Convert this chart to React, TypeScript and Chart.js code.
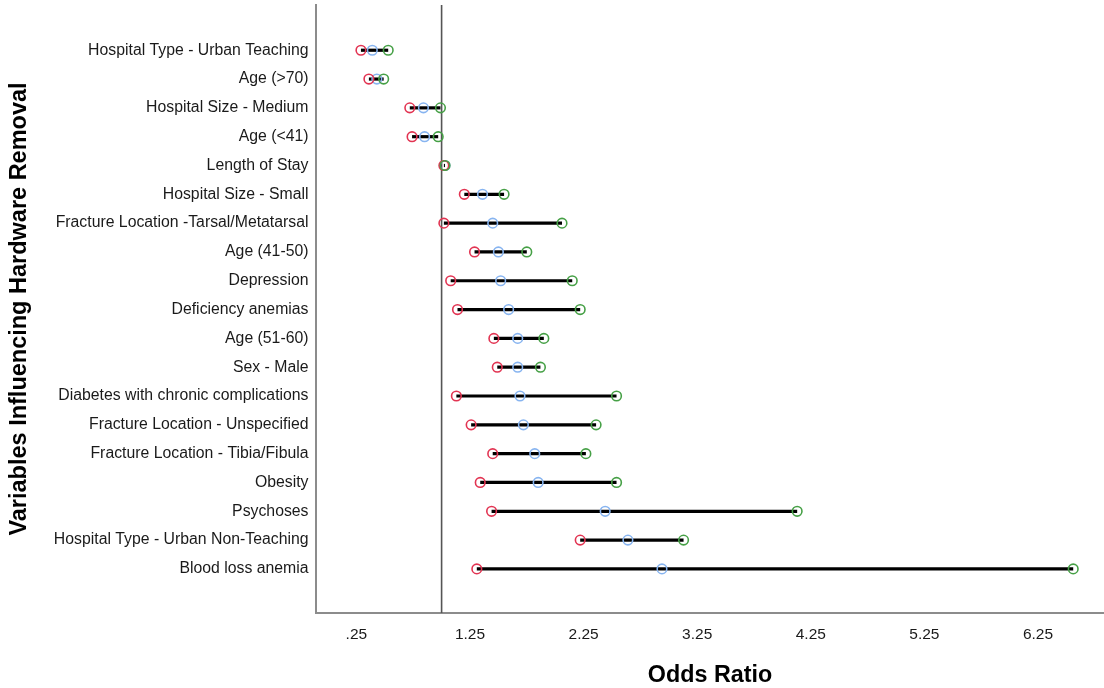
import React, { useEffect, useRef } from "react";
import { Chart, registerables } from "chart.js";

Chart.register(...registerables);

const VARIABLES = [
  "Hospital Type - Urban Teaching",
  "Age (>70)",
  "Hospital Size - Medium",
  "Age (<41)",
  "Length of Stay",
  "Hospital Size - Small",
  "Fracture Location -Tarsal/Metatarsal",
  "Age (41-50)",
  "Depression",
  "Deficiency anemias",
  "Age (51-60)",
  "Sex - Male",
  "Diabetes with chronic complications",
  "Fracture Location - Unspecified",
  "Fracture Location - Tibia/Fibula",
  "Obesity",
  "Psychoses",
  "Hospital Type - Urban Non-Teaching",
  "Blood loss anemia",
];

const LOWER_CI = [0.29, 0.36, 0.72, 0.74, 1.02, 1.2, 1.02, 1.29, 1.08, 1.14, 1.46, 1.49, 1.13, 1.26, 1.45, 1.34, 1.44, 2.22, 1.31];
const ODDS_RATIO = [0.39, 0.43, 0.84, 0.85, 1.03, 1.36, 1.45, 1.5, 1.52, 1.59, 1.67, 1.67, 1.69, 1.72, 1.82, 1.85, 2.44, 2.64, 2.94];
const UPPER_CI = [0.53, 0.49, 0.99, 0.97, 1.03, 1.55, 2.06, 1.75, 2.15, 2.22, 1.9, 1.87, 2.54, 2.36, 2.27, 2.54, 4.13, 3.13, 6.56];

const X_TICK_VALUES = [0.25, 1.25, 2.25, 3.25, 4.25, 5.25, 6.25];
const X_TICK_LABELS = [".25", "1.25", "2.25", "3.25", "4.25", "5.25", "6.25"];
const REFERENCE_OR = 1;

const FONT = "'Liberation Sans', Arial, sans-serif";

const refLinePlugin = {
  id: "refLine",
  beforeDatasetsDraw(chart: any) {
    const { ctx, chartArea, scales } = chart;
    const x = scales.x.getPixelForValue(REFERENCE_OR);
    ctx.save();
    ctx.strokeStyle = "#555555";
    ctx.lineWidth = 1.6;
    ctx.beginPath();
    ctx.moveTo(x, chartArea.top);
    ctx.lineTo(x, chartArea.bottom);
    ctx.stroke();
    ctx.restore();
  },
};

export default function App() {
  const ref = useRef<HTMLCanvasElement>(null);

  useEffect(() => {
    if (!ref.current) return;
    const lineSets = VARIABLES.map((name, i) => ({
      type: "line" as const,
      label: name,
      data: [
        { x: LOWER_CI[i], y: i },
        { x: UPPER_CI[i], y: i },
      ],
      borderColor: "#000000",
      borderWidth: 3.2,
      pointRadius: 0,
      fill: false,
      order: 10,
    }));
    const pointSet = (label: string, values: number[], color: string) => ({
      type: "scatter" as const,
      label,
      data: values.map((v, i) => ({ x: v, y: i })),
      borderColor: color,
      backgroundColor: "rgba(0,0,0,0)",
      pointRadius: 4.8,
      pointBorderWidth: 1.6,
      pointStyle: "circle",
      showLine: false,
      order: 1,
    });

    const chart = new Chart(ref.current, {
      type: "scatter",
      data: {
        datasets: [
          ...lineSets,
          pointSet("Upper CI", UPPER_CI, "rgb(70, 160, 70)"),
          pointSet("Lower CI", LOWER_CI, "rgb(226, 52, 82)"),
          pointSet("Odds Ratio", ODDS_RATIO, "rgb(135, 180, 240)"),
        ] as any,
      },
      options: {
        animation: false,
        responsive: false,
        devicePixelRatio: 1,
        layout: { autoPadding: false, padding: { top: 5, right: 0, bottom: 0, left: 0 } },
        plugins: {
          legend: { display: false },
          tooltip: { enabled: false },
        },
        scales: {
          x: {
            type: "linear",
            position: "bottom",
            min: -0.1056,
            max: 6.831,
            grid: { display: false, drawTicks: false },
            border: { display: true, color: "#8c8c8c", width: 2 },
            afterBuildTicks: (scale: any) => {
              scale.ticks = X_TICK_VALUES.map((v) => ({ value: v }));
            },
            afterFit: (scale: any) => {
              scale.height = 75;
              scale.paddingLeft = 0;
              scale.paddingRight = 0;
            },
            ticks: {
              autoSkip: false,
              maxRotation: 0,
              padding: 12,
              color: "#1a1a1a",
              font: { family: FONT, size: 15.5 },
              callback: (_v: any, idx: number) => X_TICK_LABELS[idx],
            },
            title: {
              display: true,
              text: "Odds Ratio",
              color: "#000000",
              font: { family: FONT, size: 23.3, weight: "bold", lineHeight: 1 },
              padding: { top: 0, bottom: 0.5 },
            },
          },
          y: {
            type: "linear",
            position: "left",
            reverse: true,
            min: -1.57,
            max: 19.53,
            grid: { display: false, drawTicks: false },
            border: { display: true, color: "#8c8c8c", width: 2 },
            afterFit: (scale: any) => {
              scale.width = 316;
              scale.paddingTop = 0;
              scale.paddingBottom = 0;
            },
            ticks: {
              stepSize: 1,
              autoSkip: false,
              padding: 7.5,
              color: "#1a1a1a",
              font: { family: FONT, size: 15.8 },
              callback: (v: any) => {
                const n = Number(v);
                return Number.isInteger(n) && n >= 0 && n < VARIABLES.length ? VARIABLES[n] : "";
              },
            },
            title: {
              display: true,
              text: "Variables Influencing Hardware Removal",
              color: "#000000",
              font: { family: FONT, size: 23.5, weight: "bold", lineHeight: 1 },
              padding: { top: 8, bottom: 0 },
            },
          },
        },
      },
      plugins: [refLinePlugin],
    });
    return () => chart.destroy();
  }, []);

  return (
    <div style={{ position: "absolute", left: 0, top: 0, width: 1104, height: 688, background: "#ffffff" }}>
      <canvas ref={ref} width={1104} height={688} />
    </div>
  );
}
